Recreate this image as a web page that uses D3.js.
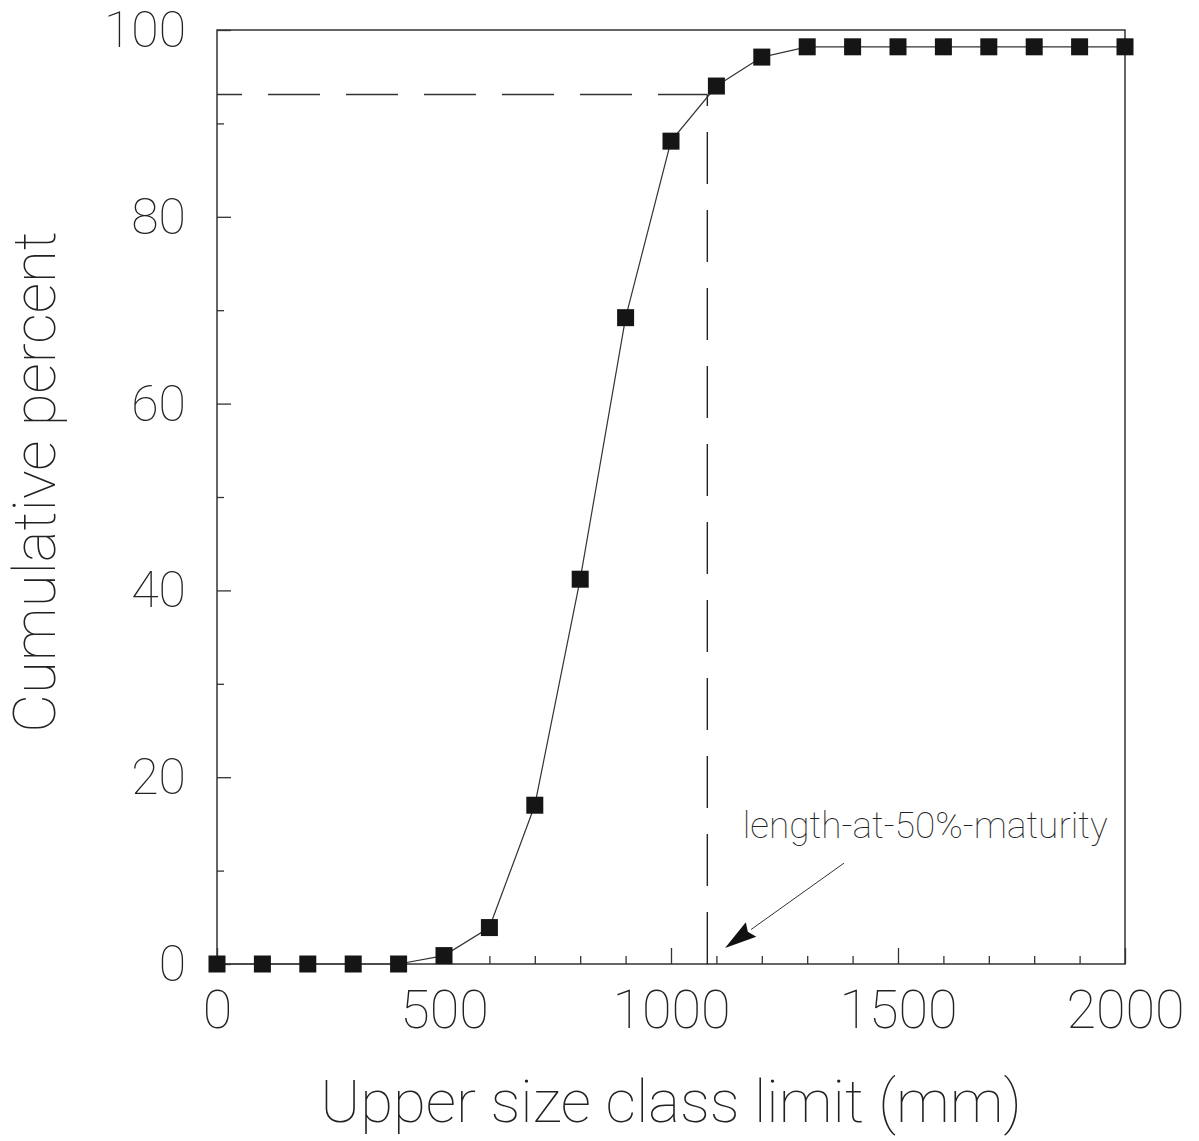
<!DOCTYPE html>
<html>
<head>
<meta charset="utf-8">
<script src="https://cdn.jsdelivr.net/npm/d3@7"></script>
<style>
  body { margin: 0; background: #fff; }
  text { font-family: "Roboto", "Inter", "Liberation Sans", sans-serif; font-weight: 100; fill: #222; }
</style>
</head>
<body>
<div id="chart"></div>
<script>
// upper size class limits (mm) and cumulative percent mature
var sizeClass = [0, 100, 200, 300, 400, 500, 600, 700, 800, 900, 1000,
                 1100, 1200, 1300, 1400, 1500, 1600, 1700, 1800, 1900, 2000]
var cumPercent = [0, 0, 0, 0, 0, 0.9, 3.9, 17, 41.2, 69.2, 88.1,
                  94, 97.1, 98.2, 98.2, 98.2, 98.2, 98.2, 98.2, 98.2, 98.2]

var xMajorTicks = [0, 500, 1000, 1500, 2000]
var xMinorTicks = [100, 200, 300, 400, 600, 700, 800, 900, 1100, 1200, 1300, 1400, 1600, 1700, 1800, 1900]
var yMajorTicks = [0, 20, 40, 60, 80, 100]
var yMinorTicks = [10, 30, 50, 70, 90]

// reference lines for length at 50% maturity
var refX = 1080
var refY = 93.1

// annotation: label position and arrow tail/tip (data units)
var noteText = "length-at-50%-maturity"
var notePos = [1158, 13.5]
var arrowTail = [1381, 10.8]
var arrowTip = [1119, 1.7]

var W = 1199, H = 1141
var margin = {top: 30, right: 74, bottom: 177, left: 217}
var width = W - margin.left - margin.right,
    height = H - margin.top - margin.bottom

var svg = d3.select("#chart").append("svg")
    .attr("width", W)
    .attr("height", H)
svg.append("rect").attr("width", W).attr("height", H).attr("fill", "#fff")

var g = svg.append("g")
    .attr("transform", "translate(" + margin.left + "," + margin.top + ")")

var x = d3.scaleLinear().domain([0, 2000]).range([0, width])
var y = d3.scaleLinear().domain([0, 100]).range([height, 0])

// frame
g.append("rect")
    .attr("x", 0).attr("y", 0)
    .attr("width", width).attr("height", height)
    .attr("fill", "none")
    .attr("stroke", "#333")
    .attr("stroke-width", 1.5)

// x axis
var xAxis = g.append("g")
    .attr("transform", "translate(0," + height + ")")
    .call(d3.axisBottom(x).tickValues(xMajorTicks).tickSize(-16).tickSizeOuter(0).tickPadding(26).tickFormat(d3.format("d")))
xAxis.select(".domain").remove()
xAxis.selectAll("text").style("font-size", "54px")
g.append("g")
    .attr("transform", "translate(0," + height + ")")
    .call(d3.axisBottom(x).tickValues(xMinorTicks).tickSize(-8).tickFormat(""))
    .select(".domain").remove()

// y axis
var yAxis = g.append("g")
    .call(d3.axisLeft(y).tickValues(yMajorTicks).tickSize(-14).tickSizeOuter(0).tickPadding(31))
yAxis.select(".domain").remove()
yAxis.selectAll("text").style("font-size", "50px").attr("dy", "0.33em")
g.append("g")
    .call(d3.axisLeft(y).tickValues(yMinorTicks).tickSize(-7).tickFormat(""))
    .select(".domain").remove()

g.selectAll(".tick line").attr("stroke", "#333").attr("stroke-width", 1.3)

// dashed reference lines
g.append("line")
    .attr("x1", x(0)).attr("x2", x(refX))
    .attr("y1", y(refY)).attr("y2", y(refY))
    .attr("stroke", "#333").attr("stroke-width", 1.4)
    .attr("stroke-dasharray", "52,26")
    .attr("stroke-dashoffset", 27)
g.append("line")
    .attr("x1", x(refX)).attr("x2", x(refX))
    .attr("y1", y(0)).attr("y2", y(refY))
    .attr("stroke", "#222").attr("stroke-width", 1.4)
    .attr("stroke-dasharray", "52,26")

// data line
var data = sizeClass.map(function(d, i) { return {size: d, pct: cumPercent[i]} })
g.append("path")
    .datum(data)
    .attr("fill", "none")
    .attr("stroke", "#333")
    .attr("stroke-width", 1.2)
    .attr("d", d3.line()
        .x(function(d) { return x(d.size) })
        .y(function(d) { return y(d.pct) }))

// square markers
var sq = 17
g.selectAll("rect.pt")
    .data(data)
    .enter()
    .append("rect")
    .attr("class", "pt")
    .attr("x", function(d) { return x(d.size) - sq / 2 })
    .attr("y", function(d) { return y(d.pct) - sq / 2 })
    .attr("width", sq).attr("height", sq)
    .attr("fill", "#151515")

// annotation arrow: thin shaft + solid head built from the scaled ends
var tx = x(arrowTail[0]), ty = y(arrowTail[1]),
    hx = x(arrowTip[0]), hy = y(arrowTip[1])
var ang = Math.atan2(hy - ty, hx - tx)
var headLen = 32, headHalf = 9
var bx = hx - headLen * Math.cos(ang), by = hy - headLen * Math.sin(ang)
g.append("line")
    .attr("x1", tx).attr("y1", ty)
    .attr("x2", bx).attr("y2", by)
    .attr("stroke", "#333").attr("stroke-width", 1)
g.append("path")
    .attr("d", "M" + hx + "," + hy +
        "L" + (bx + headHalf * Math.sin(ang)) + "," + (by - headHalf * Math.cos(ang)) +
        "L" + (bx + 4 * Math.cos(ang)) + "," + (by + 4 * Math.sin(ang)) +
        "L" + (bx - headHalf * Math.sin(ang)) + "," + (by + headHalf * Math.cos(ang)) + "Z")
    .attr("fill", "#111")

g.append("text")
    .attr("x", x(notePos[0])).attr("y", y(notePos[1]))
    .style("font-size", "37px")
    .text(noteText)

// axis titles
g.append("text")
    .attr("x", width / 2)
    .attr("y", height + 158)
    .attr("text-anchor", "middle")
    .style("font-size", "60px")
    .text("Upper size class limit (mm)")
g.append("text")
    .attr("transform", "translate(" + (-162) + "," + (height / 2 - 15) + ") rotate(-90)")
    .attr("text-anchor", "middle")
    .style("font-size", "60px")
    .text("Cumulative percent")
</script>
</body>
</html>
